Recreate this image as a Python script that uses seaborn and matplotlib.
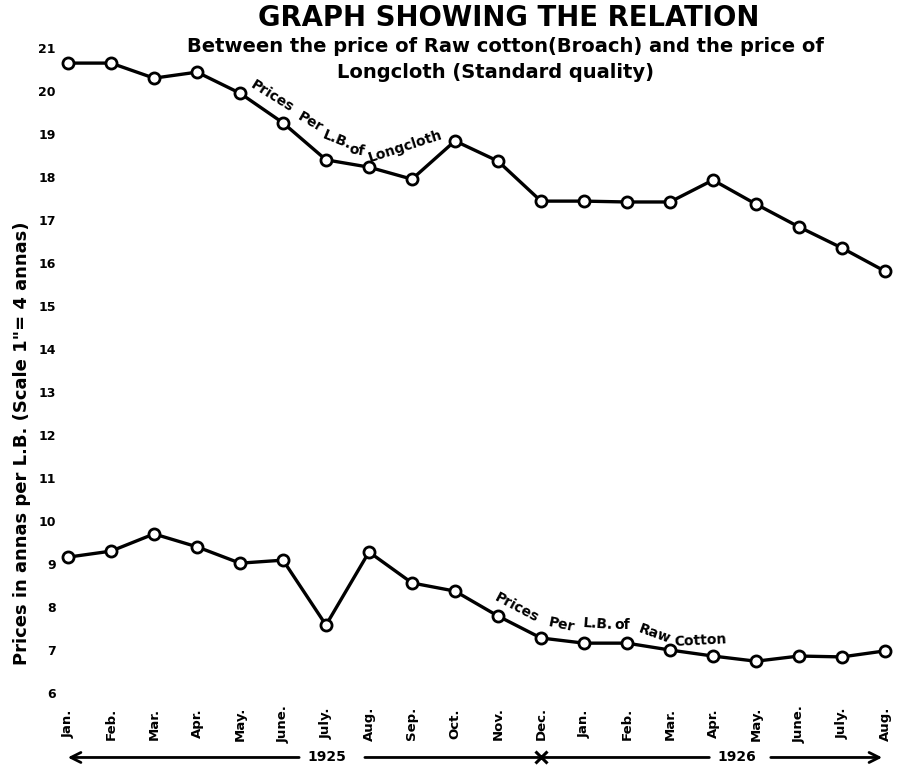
import numpy as np
import pandas as pd
import matplotlib
matplotlib.use("Agg")
import matplotlib.pyplot as plt
import matplotlib.transforms as mtransforms
import seaborn as sns

# monthly prices, Jan 1925 .. Aug 1926 (annas per lb)
months = ["Jan.", "Feb.", "Mar.", "Apr.", "May.", "June.", "July.", "Aug.",
          "Sep.", "Oct.", "Nov.", "Dec.", "Jan.", "Feb.", "Mar.", "Apr.",
          "May.", "June.", "July.", "Aug."]
longcloth = [20.65, 20.65, 20.30, 20.44, 19.95, 19.26, 18.40, 18.23, 17.95, 18.84,
             18.37, 17.44, 17.44, 17.42, 17.42, 17.93, 17.37, 16.84, 16.35, 15.81]
raw_cotton = [9.16, 9.30, 9.70, 9.40, 9.02, 9.09, 7.58, 9.28, 8.56, 8.37,
              7.79, 7.28, 7.16, 7.16, 7.00, 6.86, 6.74, 6.86, 6.84, 6.98]
y_ticks = list(range(6, 22))
years = ["1925", "1926"]

df = pd.DataFrame({"month_no": range(len(months)),
                   "Longcloth": longcloth,
                   "Raw Cotton": raw_cotton})
long_df = df.melt(id_vars="month_no", var_name="series", value_name="price")

sns.set_style("white")
plt.rcParams['font.family'] = ['DejaVu Sans']
plt.rcParams['text.color'] = 'black'
plt.rcParams['xtick.color'] = 'black'
plt.rcParams['ytick.color'] = 'black'

fig = plt.figure(figsize=(9, 7.68), dpi=100)
ax = fig.add_axes([0.0667, 0.0885, 0.9333, 0.8724])

sns.lineplot(data=long_df, x="month_no", y="price", hue="series",
             palette={"Longcloth": "black", "Raw Cotton": "black"},
             lw=2.4, marker="o", markersize=8, markerfacecolor="white",
             markeredgecolor="black", markeredgewidth=2, clip_on=False,
             legend=False, ax=ax)

ax.set_xlim(-0.186, 19.35)
ax.set_ylim(5.837, 21.419)
sns.despine(ax=ax, left=True, bottom=True)
ax.set_xlabel("")
ax.set_ylabel("")

ax.set_yticks(y_ticks, [str(t) for t in y_ticks], fontsize=9, fontweight="bold")
ax.set_xticks(range(len(months)), months, rotation=90, va="center",
              fontsize=9.5, fontweight="bold")
ax.tick_params(axis="both", length=0)
ax.tick_params(axis="y", pad=3)
ax.tick_params(axis="x", pad=17)

# titles
fig.text(0.565, 0.976, "GRAPH SHOWING THE RELATION", ha="center", va="center",
         fontsize=19.8, fontweight="bold")
fig.text(0.562, 0.939, "Between the price of Raw cotton(Broach) and the price of",
         ha="center", va="center", fontsize=14, fontweight="bold")
fig.text(0.551, 0.906, "Longcloth (Standard quality)",
         ha="center", va="center", fontsize=14, fontweight="bold")

fig.text(0.024, 0.423, 'Prices in annas per L.B. (Scale 1"= 4 annas)',
         rotation=90, ha="center", va="center", fontsize=13, fontweight="bold")

# line labels following the curves
lbl = dict(ha="center", va="center", fontsize=10, fontweight="bold")
for txt, x, y, r in [("Prices", 4.74, 19.88, -32), ("Per", 5.63, 19.28, -30),
                     ("L.B.", 6.26, 18.86, -22), ("of", 6.72, 18.63, -10),
                     ("Longcloth", 7.84, 18.72, 18)]:
    ax.text(x, y, txt, rotation=r, **lbl)
for txt, x, y, r in [("Prices", 10.44, 7.98, -28), ("Per", 11.49, 7.58, -12),
                     ("L.B.", 12.33, 7.60, -4), ("of", 12.88, 7.58, 0),
                     ("Raw", 13.65, 7.37, -20), ("Cotton", 14.70, 7.23, 3)]:
    ax.text(x, y, txt, rotation=r, **lbl)

# year arrows under the month labels
blend = mtransforms.blended_transform_factory(ax.transData, fig.transFigure)
ya = 0.0137
arw = dict(arrowstyle="->", lw=2, color="black", mutation_scale=18)
seg = dict(arrowstyle="-", lw=2, color="black")
ax.annotate("", xy=(-0.07, ya), xytext=(5.44, ya), xycoords=blend, textcoords=blend,
            arrowprops=arw, annotation_clip=False)
ax.text(6.02, ya, years[0], transform=blend, ha="center", va="center",
        fontsize=10, fontweight="bold")
ax.annotate("", xy=(11, ya), xytext=(6.84, ya), xycoords=blend, textcoords=blend,
            arrowprops=seg, annotation_clip=False)
ax.plot([11], [ya], marker="x", ms=8, mew=2.2, color="black", transform=blend,
        clip_on=False)
ax.annotate("", xy=(14.98, ya), xytext=(11, ya), xycoords=blend, textcoords=blend,
            arrowprops=seg, annotation_clip=False)
ax.text(15.56, ya, years[1], transform=blend, ha="center", va="center",
        fontsize=10, fontweight="bold")
ax.annotate("", xy=(19.0, ya), xytext=(16.28, ya), xycoords=blend, textcoords=blend,
            arrowprops=arw, annotation_clip=False)

fig.savefig("out.png", dpi=100)
